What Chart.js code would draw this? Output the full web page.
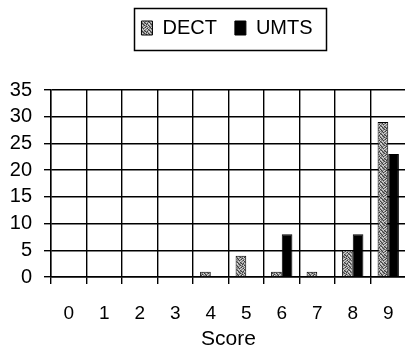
<!DOCTYPE html>
<html><head><meta charset="utf-8">
<script src="https://cdn.jsdelivr.net/npm/chart.js@4/dist/chart.umd.min.js"></script>
<style>
html,body{margin:0;padding:0;background:#fff;overflow:hidden;width:405px;height:347px}
canvas{display:block}
</style>
</head><body>
<canvas id="c" width="412" height="352"></canvas>
<script>
// Score distribution for the two handset technologies
const scores = ['0', '1', '2', '3', '4', '5', '6', '7', '8', '9'];
const dect = [0, 0, 0, 0, 1, 4, 1, 1, 5, 29];
const umts = [0, 0, 0, 0, 0, 0, 8, 0, 8, 23];
const yMin = 0, yMax = 35, yStep = 5;

const FONT = 'Liberation Sans, Arial, sans-serif';

// grainy grey fill used for the DECT series (0 = dark, 1 = mid, 2 = light)
const GRAIN = [
  [1, 2, 0, 1, 1, 2, 1, 0],
  [0, 1, 1, 2, 0, 1, 2, 1],
  [2, 1, 0, 1, 2, 0, 1, 1],
  [1, 0, 2, 1, 1, 1, 0, 2],
  [1, 2, 1, 0, 2, 1, 1, 0],
  [2, 1, 1, 2, 0, 1, 2, 1],
  [0, 1, 2, 1, 1, 0, 1, 2],
  [1, 0, 1, 0, 2, 2, 0, 1]
];
const SHADES = ['#3c3c3c', '#8c8c8c', '#d4d4d4'];
function stipple(ctx) {
  const t = document.createElement('canvas');
  t.width = t.height = GRAIN.length;
  const g = t.getContext('2d');
  GRAIN.forEach((row, y) => row.forEach((v, x) => {
    g.fillStyle = SHADES[v];
    g.fillRect(x, y, 1, 1);
  }));
  return ctx.createPattern(t, 'repeat');
}

const canvas = document.getElementById('c');
const ctx = canvas.getContext('2d');
const LEGEND_SHIFT = 24;

// legend band height, horizontal shift and a frame around the drawn items
const legendFrame = {
  id: 'legendFrame',
  afterInit(chart) {
    const lg = chart.legend;
    const fit = lg.fit;
    lg.fit = function () { fit.call(this); this.height = 90; };
  },
  afterLayout(chart) {
    chart.legend.left += LEGEND_SHIFT;
    chart.legend.right += LEGEND_SHIFT;
  },
  afterDraw(chart) {
    const lg = chart.legend;
    const items = lg.legendItems || [];
    if (!items.length) return;
    const opts = lg.options.labels;
    const c = chart.ctx;
    c.save();
    c.font = `${opts.font.size}px ${FONT}`;
    // same row width as the legend uses when it centres its items
    const rowW = lg.lineWidths[0];
    const x0 = (lg.left + lg.right - rowW) / 2;
    const gap = opts.font.size / 2;
    let w = 0;
    items.forEach((it, i) => {
      w += opts.boxWidth + gap + c.measureText(it.text).width + (i < items.length - 1 ? opts.padding : 0);
    });
    const top = lg.top + opts.padding;
    c.strokeStyle = '#000';
    c.lineWidth = 1.5;
    c.strokeRect(Math.round(x0 + 2) + 0.5, Math.round(top - 10) + 0.5, Math.round(w + 21), 42);
    c.restore();
  }
};

new Chart(ctx, {
  type: 'bar',
  data: {
    labels: scores,
    datasets: [
      { label: 'DECT', data: dect, backgroundColor: stipple(ctx), borderColor: '#000', borderWidth: 1 },
      { label: 'UMTS', data: umts, backgroundColor: '#000', borderColor: '#000', borderWidth: 1 }
    ]
  },
  options: {
    responsive: false,
    animation: false,
    events: [],
    layout: { padding: { left: 0, right: 6, top: 0, bottom: 0 } },
    datasets: { bar: { categoryPercentage: 0.6, barPercentage: 1.0 } },
    plugins: {
      tooltip: { enabled: false },
      legend: {
        position: 'top',
        labels: {
          color: '#000',
          font: { family: FONT, size: 20 },
          boxWidth: 11,
          boxHeight: 14,
          padding: 18
        }
      }
    },
    scales: {
      x: {
        grid: { color: '#000', lineWidth: 1.4, tickLength: 7, offset: true },
        border: { color: '#000', width: 1.4 },
        ticks: { color: '#000', font: { family: FONT, size: 19 }, padding: 18, maxRotation: 0, autoSkip: false },
        title: { display: true, text: 'Score', color: '#000', font: { family: FONT, size: 21 }, padding: { top: 0, bottom: 0 } },
        afterFit(s) { s.height = 75; }
      },
      y: {
        min: yMin, max: yMax,
        grid: { color: '#000', lineWidth: 1.4, tickLength: 7 },
        border: { color: '#000', width: 1.4 },
        ticks: { stepSize: yStep, color: '#000', font: { family: FONT, size: 20 }, padding: 12, autoSkip: false },
        afterFit(s) { s.width = 51; }
      }
    }
  },
  plugins: [legendFrame]
});
</script>
</body></html>
